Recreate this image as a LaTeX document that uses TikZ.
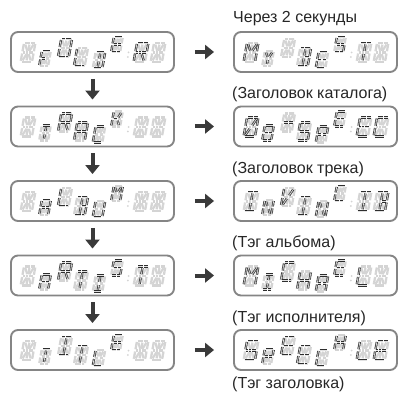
\documentclass[tikz,border=0pt]{standalone}
\usepackage{fontspec}
\setmainfont{Liberation Sans}
\usetikzlibrary{arrows.meta}
\definecolor{boxc}{HTML}{858585}
\definecolor{arrc}{HTML}{3A3A3A}
\definecolor{ghostc}{HTML}{D4D4D4}
\definecolor{litc}{HTML}{2E2E2E}
\tikzset{
  ghost/.style={draw=ghostc, line width=2.3pt, dash pattern=on 0.8pt off 0.3pt},
  lit/.style={draw=litc, line width=0.8pt, double=ghostc!70, double distance=0.8pt, dash pattern=on 0.7pt off 0.4pt},
  dbox/.style={draw=boxc, line width=1.9pt, rounded corners=7pt, minimum width=163pt, minimum height=40pt, inner sep=0pt},
  arr/.style={draw=arrc, line width=4pt, -{Triangle[width=14pt,length=9pt]}},
  lbl/.style={anchor=west, inner sep=0pt, text=black!85, font=\fontsize{16}{18}\selectfont}
}
% segments (y grows downward)
\def\dsega#1{\draw[#1] (1,0)--(\cW-1,0);}
\def\dsegb#1{\draw[#1] (\cW,1)--(\cW,\cM-1);}
\def\dsegc#1{\draw[#1] (\cW,\cM+1)--(\cW,\cH-1);}
\def\dsegd#1{\draw[#1] (1,\cH)--(\cW-1,\cH);}
\def\dsege#1{\draw[#1] (0,\cM+1)--(0,\cH-1);}
\def\dsegf#1{\draw[#1] (0,1)--(0,\cM-1);}
\def\dsegg#1{\draw[#1] (1,\cM)--(\cC-0.8,\cM);}
\def\dsegp#1{\draw[#1] (\cC+0.8,\cM)--(\cW-1,\cM);}
\def\dsegh#1{\draw[#1] (1.6,1.6)--(\cC-1,\cM-1.6);}
\def\dsegi#1{\draw[#1] (\cC,1.6)--(\cC,\cM-1.6);}
\def\dsegj#1{\draw[#1] (\cW-1.6,1.6)--(\cC+1,\cM-1.6);}
\def\dsegk#1{\draw[#1] (1.6,\cH-1.6)--(\cC-1,\cM+1.6);}
\def\dsegl#1{\draw[#1] (\cC,\cM+1.6)--(\cC,\cH-1.6);}
\def\dsegm#1{\draw[#1] (\cW-1.6,\cH-1.6)--(\cC+1,\cM+1.6);}
\def\dsegz#1{}
% letters
\def\letA{a,b,c,e,f,g,p}
\def\letB{a,b,c,d,i,l,p}
\def\letC{a,d,e,f}
\def\letD{a,b,c,d,i,l}
\def\letE{a,d,e,f,g,p}
\def\letF{a,e,f,g}
\def\letH{b,c,e,f,g,p}
\def\letI{a,d,i,l}
\def\letK{e,f,g,j,m}
\def\letL{d,e,f}
\def\letM{b,c,e,f,h,j}
\def\letN{b,c,e,f,h,m}
\def\letO{a,b,c,d,e,f}
\def\letP{a,b,e,f,g,p}
\def\letR{a,b,e,f,g,p,m}
\def\letS{a,c,d,f,g,p}
\def\letT{a,i,l}
\def\letU{b,c,d,e,f}
\def\letV{e,f,k,j}
\def\letY{h,j,l}
\def\letzero{a,b,c,d,e,f,j,k}
\def\leteight{a,b,c,d,e,f,g,p}
\def\letdash{g,p}
\def\letsp{z}
\newcommand\dcell[4]{%
  \pgfmathsetmacro\cH{#3}\pgfmathsetmacro\cW{0.6*#3}%
  \pgfmathsetmacro\cM{#3/2}\pgfmathsetmacro\cC{0.3*#3}%
  \begin{scope}[shift={({#1-\cW/2+0.09*\cH},{#2})}, xslant=0.18]
    \foreach \sg in {a,b,c,d,e,f,g,p,h,i,j,k,l,m} {\csname dseg\sg\endcsname{ghost}}
    \edef\curlist{\csname let#4\endcsname}%
    \foreach \sg in \curlist {\csname dseg\sg\endcsname{lit}}
  \end{scope}}
\def\cxs{{17,34,54,70,88,106,130,147}}
\def\cys{{-9,-1,-13,-4,0,-15,-9,-9}}
\def\chs{{19,15,18,18,16,15,19,19}}
\newcommand\disp[3]{%
  \foreach \ch [count=\nn] in {#3} {
    \pgfmathsetmacro\xx{#1+\cxs[\nn-1]}
    \pgfmathsetmacro\yy{#2+\cys[\nn-1]}
    \pgfmathsetmacro\hh{\chs[\nn-1]}
    \dcell{\xx}{\yy}{\hh}{\ch}
  }
  \fill[ghostc] ({#1+117.5},{#2+0.5}) circle (1) ({#1+116.8},{#2+5}) circle (1);
}
\begin{document}
\begin{tikzpicture}[x=1pt, y=-1pt]
\useasboundingbox (0,0) rectangle (414,395);
% boxes
\node[dbox] (L1) at (92.5,52) {};
\node[dbox] (L2) at (92.5,126.5) {};
\node[dbox] (L3) at (92.5,201) {};
\node[dbox] (L4) at (92.5,275.5) {};
\node[dbox] (L5) at (92.5,350) {};
\node[dbox] (R1) at (315.5,52) {};
\node[dbox] (R2) at (315.5,126.5) {};
\node[dbox] (R3) at (315.5,201) {};
\node[dbox] (R4) at (315.5,275.5) {};
\node[dbox] (R5) at (315.5,350) {};
% displays
\disp{11}{52}{sp,F,O,L,D,E,R,sp}
\disp{11}{126.5}{sp,T,R,A,C,K,sp,sp}
\disp{11}{201}{sp,A,L,B,U,M,sp,sp}
\disp{11}{275.5}{sp,A,R,T,I,S,T,sp}
\disp{11}{350}{sp,T,I,T,L,E,sp,sp}
\disp{234}{52}{M,Y,sp,B,E,S,T,sp}
\disp{234}{126.5}{zero,eight,dash,S,P,E,E,C}
\disp{234}{201}{I,N,V,I,N,C,I,B}
\disp{234}{275.5}{M,I,C,H,A,E,L,sp}
\disp{234}{350}{S,P,E,E,C,H,L,E}
% labels
\node[lbl] (t0) at (233,19) {Через 2 секунды};
\node[lbl] (t1) at (232,94.5) {(Заголовок каталога)};
\node[lbl] (t2) at (232,169) {(Заголовок трека)};
\node[lbl] (t3) at (232,243.5) {(Тэг альбома)};
\node[lbl] (t4) at (232,318) {(Тэг исполнителя)};
\node[lbl] (t5) at (232,384) {(Тэг заголовка)};
% arrows
\foreach \i/\j in {1/2,2/3,3/4,4/5}
  \draw[arr] ([yshift=-6pt]L\i.south) -- ([yshift=6pt]L\j.north);
\foreach \i in {1,...,5}
  \draw[arr] ([xshift=20pt]L\i.east) -- ([xshift=-19pt]R\i.west);
\end{tikzpicture}
\end{document}
